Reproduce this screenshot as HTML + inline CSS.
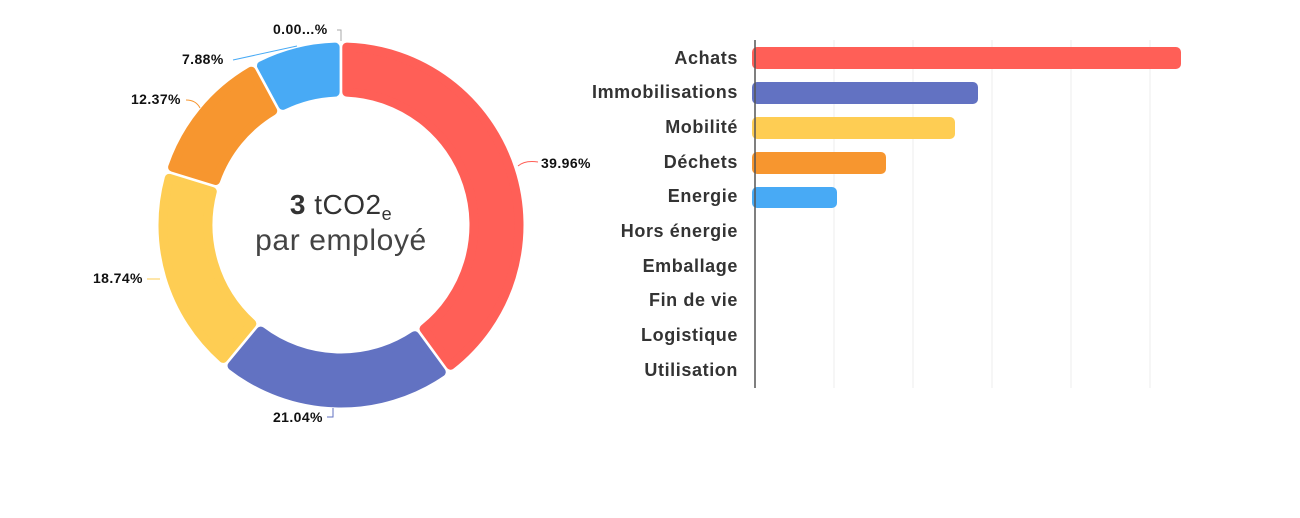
<!DOCTYPE html>
<html><head><meta charset="utf-8"><style>
html,body{margin:0;padding:0;background:#fff;width:1300px;height:518px;overflow:hidden}
svg{display:block}
.lbl{font-family:"Liberation Sans",sans-serif;font-weight:bold;font-size:14px;fill:#111;letter-spacing:0.4px}
.cat{font-family:"Liberation Sans",sans-serif;font-weight:bold;font-size:18px;fill:#333;text-anchor:end;letter-spacing:0.6px}
</style></head><body>
<svg id="s" width="1300" height="518" viewBox="0 0 1300 518" xmlns="http://www.w3.org/2000/svg">
<g id="donut"></g>
<text x="341" y="214" text-anchor="middle" font-family="Liberation Sans,sans-serif" font-size="28" fill="#333" letter-spacing="0.5"><tspan font-weight="bold">3</tspan> tCO2<tspan font-size="18" dy="6">e</tspan></text>
<text x="341" y="250" text-anchor="middle" font-family="Liberation Sans,sans-serif" font-size="30" fill="#444" letter-spacing="0.6">par employé</text>
<text class="lbl" x="541" y="168">39.96%</text>
<path d="M518 166 Q525 160 538 162" stroke="#ff5f57" fill="none"/>
<text class="lbl" x="273" y="422">21.04%</text>
<path d="M327 417 L333 417 L333 408" stroke="#6272c2" fill="none"/>
<text class="lbl" x="93" y="283">18.74%</text>
<path d="M147 279 L160 279" stroke="#fecd53" fill="none"/>
<text class="lbl" x="131" y="104">12.37%</text>
<path d="M186 100 Q196 100 200 108" stroke="#f7962f" fill="none"/>
<text class="lbl" x="182" y="64">7.88%</text>
<path d="M233 60 L297 46" stroke="#48aaf5" fill="none"/>
<text class="lbl" x="273" y="34">0.00...%</text>
<path d="M337 30 L341 30 L341 41" stroke="#aaa" fill="none"/>
<g stroke="#ececec" stroke-width="1">
<line x1="834" y1="40" x2="834" y2="388"/><line x1="913" y1="40" x2="913" y2="388"/>
<line x1="992" y1="40" x2="992" y2="388"/><line x1="1071" y1="40" x2="1071" y2="388"/>
<line x1="1150" y1="40" x2="1150" y2="388"/>
</g>
<rect x="752" y="47" width="429" height="22" rx="5" fill="#ff5f57"/>
<rect x="752" y="82" width="226" height="22" rx="5" fill="#6272c2"/>
<rect x="752" y="117" width="203" height="22" rx="5" fill="#fecd53"/>
<rect x="752" y="152" width="134" height="22" rx="5" fill="#f7962f"/>
<rect x="752" y="187" width="85" height="21" rx="5" fill="#48aaf5"/>
<line x1="755" y1="40" x2="755" y2="388" stroke="#555" stroke-width="1.5"/>
<text class="cat" x="738" y="64">Achats</text>
<text class="cat" x="738" y="98">Immobilisations</text>
<text class="cat" x="738" y="133">Mobilité</text>
<text class="cat" x="738" y="168">Déchets</text>
<text class="cat" x="738" y="202">Energie</text>
<text class="cat" x="738" y="237">Hors énergie</text>
<text class="cat" x="738" y="272">Emballage</text>
<text class="cat" x="738" y="306">Fin de vie</text>
<text class="cat" x="738" y="341">Logistique</text>
<text class="cat" x="738" y="376">Utilisation</text>
</svg>
<script>
var cx=341,cy=225,R=178,r=133,gap=5.8;
var segs=[[39.96,"#ff5f57"],[21.04,"#6272c2"],[18.74,"#fecd53"],[12.37,"#f7962f"],[7.88,"#48aaf5"]];
var a=0,g=document.getElementById("donut"),h="";
function pt(rad,deg){var t=(deg-90)*Math.PI/180;return (cx+rad*Math.cos(t)).toFixed(2)+" "+(cy+rad*Math.sin(t)).toFixed(2);}
segs.forEach(function(s){
 var d=s[0]*3.6;
 var oR=gap/R*180/Math.PI, or=gap/r*180/Math.PI;
 var A0=a+oR,A1=a+d-oR,b0=a+or,b1=a+d-or,la=(A1-A0)>180?1:0;
 var p="M"+pt(R,A0)+" A"+R+" "+R+" 0 "+la+" 1 "+pt(R,A1)+" L"+pt(r,b1)+" A"+r+" "+r+" 0 "+la+" 0 "+pt(r,b0)+" Z";
 h+='<path d="'+p+'" fill="'+s[1]+'" stroke="'+s[1]+'" stroke-width="9" stroke-linejoin="round"/>';
 a+=d;});
g.innerHTML=h;
</script>
</body></html>
